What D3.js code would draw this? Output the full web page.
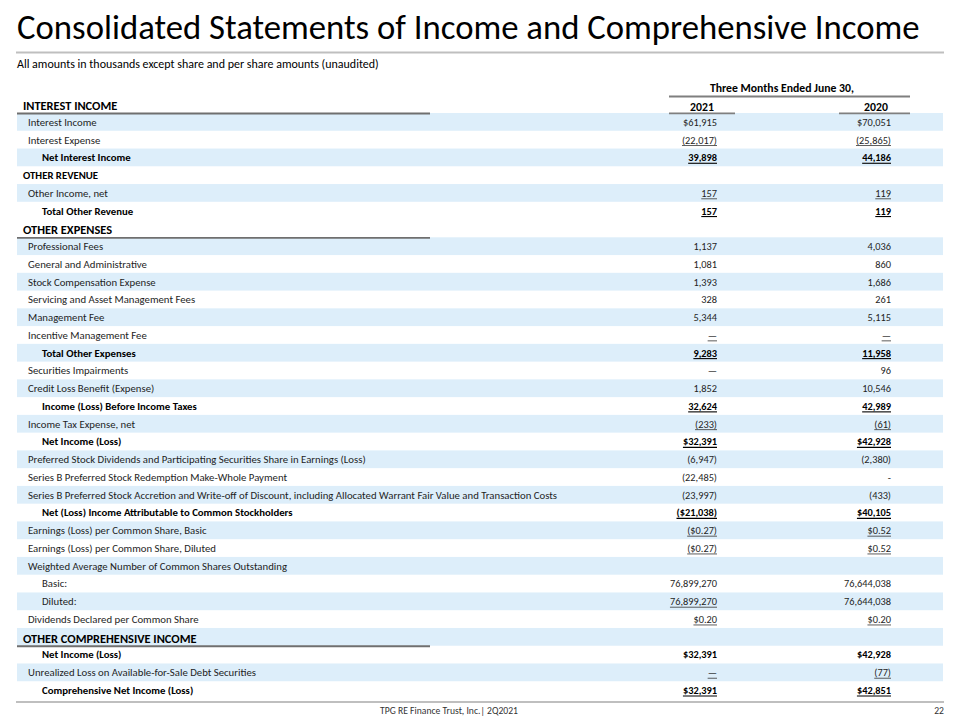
<!DOCTYPE html>
<html>
<head>
<meta charset="utf-8">
<script src="https://cdn.jsdelivr.net/npm/d3@7"></script>
<style>
  body { margin: 0; background: #fff; }
  svg { display: block; font-family: Carlito, Lato, "Open Sans", sans-serif; }
</style>
</head>
<body>
<svg width="960" height="720"></svg>
<script>
// statement rows
var labels = [
  "INTEREST INCOME",
  "Interest Income", "Interest Expense", "Net Interest Income",
  "OTHER REVENUE", "Other Income, net", "Total Other Revenue",
  "OTHER EXPENSES",
  "Professional Fees", "General and Administrative", "Stock Compensation Expense",
  "Servicing and Asset Management Fees", "Management Fee", "Incentive Management Fee",
  "Total Other Expenses", "Securities Impairments", "Credit Loss Benefit (Expense)",
  "Income (Loss) Before Income Taxes", "Income Tax Expense, net", "Net Income (Loss)",
  "Preferred Stock Dividends and Participating Securities Share in Earnings (Loss)",
  "Series B Preferred Stock Redemption Make-Whole Payment",
  "Series B Preferred Stock Accretion and Write-off of Discount, including Allocated Warrant Fair Value and Transaction Costs",
  "Net (Loss) Income Attributable to Common Stockholders",
  "Earnings (Loss) per Common Share, Basic", "Earnings (Loss) per Common Share, Diluted",
  "Weighted Average Number of Common Shares Outstanding",
  "Basic:", "Diluted:", "Dividends Declared per Common Share",
  "OTHER COMPREHENSIVE INCOME",
  "Net Income (Loss)", "Unrealized Loss on Available-for-Sale Debt Securities",
  "Comprehensive Net Income (Loss)"
];

// head = section title with rule, sect = small section title, total = bold indented, sub = indented
var kinds = [
  "head",
  "item", "item", "total",
  "sect", "item", "total",
  "head",
  "item", "item", "item", "item", "item", "item",
  "total", "item", "item",
  "total", "item", "total",
  "item", "item", "item", "total",
  "item", "item", "item",
  "sub", "sub", "item",
  "head",
  "total", "item", "total"
];

var years = ["2021", "2020"];

var v2021 = [
  "",
  "$61,915", "(22,017)", "39,898",
  "", "157", "157",
  "",
  "1,137", "1,081", "1,393", "328", "5,344", "\u2014",
  "9,283", "\u2014", "1,852",
  "32,624", "(233)", "$32,391",
  "(6,947)", "(22,485)", "(23,997)", "($21,038)",
  "($0.27)", "($0.27)", "",
  "76,899,270", "76,899,270", "$0.20",
  "",
  "$32,391", "\u2014", "$32,391"
];

var v2020 = [
  "",
  "$70,051", "(25,865)", "44,186",
  "", "119", "119",
  "",
  "4,036", "860", "1,686", "261", "5,115", "\u2014",
  "11,958", "96", "10,546",
  "42,989", "(61)", "$42,928",
  "(2,380)", "-", "(433)", "$40,105",
  "$0.52", "$0.52", "",
  "76,644,038", "76,644,038", "$0.20",
  "",
  "$42,928", "(77)", "$42,851"
];

// style: which cells carry an accounting underline, which rows are shaded
var under2021 = [2, 3, 5, 6, 13, 14, 17, 18, 19, 23, 24, 25, 28, 29, 32, 33];
var under2020 = [2, 3, 5, 6, 13, 14, 17, 18, 19, 23, 24, 25, 29, 32, 33];
var shaded = [1, 3, 5, 8, 10, 12, 14, 16, 18, 20, 22, 24, 26, 28, 30, 32];

var svg = d3.select("svg");

var y = d3.scaleBand()
    .domain(d3.range(labels.length))
    .range([95.25, 699]);

var colRight = d3.scaleOrdinal().domain(years).range([717, 891]);
var colCenter = d3.scaleOrdinal().domain(years).range([702, 876]);
var colLine = d3.scaleOrdinal().domain(years).range([[669, 735], [839, 910]]);

var indent = {head: 23, sect: 23, item: 28, total: 42, sub: 42};

// fit a text element to a target width by changing font size
function fitSize(sel, target) {
  var w = sel.node().getComputedTextLength();
  var fs = parseFloat(sel.style("font-size"));
  sel.style("font-size", (fs * target / w) + "px");
  return fs * target / w;
}

// title
var title = svg.append("text")
    .attr("x", 17)
    .attr("y", 39)
    .style("font-size", "32px")
    .attr("fill", "#000")
    .text("Consolidated Statements of Income and Comprehensive Income");
fitSize(title, 903);

svg.append("line")
    .attr("x1", 16).attr("x2", 944)
    .attr("y1", 52.5).attr("y2", 52.5)
    .attr("stroke", "#bfbfbf")
    .attr("stroke-width", 2);

var sub = svg.append("text")
    .attr("x", 17)
    .attr("y", 68)
    .style("font-size", "11px")
    .attr("fill", "#000")
    .text("All amounts in thousands except share and per share amounts (unaudited)");
fitSize(sub, 362);

// row size from the longest label
var probe = svg.append("text").style("font-size", "10px").text(labels[22]);
var rowSize = fitSize(probe, 530);
probe.remove();

// shaded bands
svg.append("g").selectAll("rect")
  .data(shaded)
  .join("rect")
    .attr("x", 17)
    .attr("y", d => y(d))
    .attr("width", 926)
    .attr("height", y.bandwidth())
    .attr("fill", "#ddeefa");

// column header
var hdr = svg.append("text")
    .attr("x", 782)
    .attr("y", 92)
    .attr("text-anchor", "middle")
    .attr("font-weight", "bold")
    .style("font-size", rowSize + "px")
    .text("Three Months Ended June 30,");
var hdrSize = fitSize(hdr, 144);

svg.append("line")
    .attr("x1", 669).attr("x2", 910)
    .attr("y1", 96.5).attr("y2", 96.5)
    .attr("stroke", "#7f7f7f")
    .attr("stroke-width", 1.8);

var yh = svg.append("g").selectAll("g")
  .data(years)
  .join("g");

yh.append("text")
    .attr("x", d => colCenter(d))
    .attr("y", 111)
    .attr("text-anchor", "middle")
    .attr("font-weight", "bold")
    .style("font-size", hdrSize + "px")
    .text(d => d);

yh.append("line")
    .attr("x1", d => colLine(d)[0])
    .attr("x2", d => colLine(d)[1])
    .attr("y1", 113.3).attr("y2", 113.3)
    .attr("stroke", "#7f7f7f")
    .attr("stroke-width", 1.8);

// rows
var rows = svg.append("g").selectAll("g")
  .data(labels.map((l, i) => ({
    i: i, label: l, kind: kinds[i],
    vals: [
      {year: "2021", v: v2021[i], u: under2021.indexOf(i) >= 0},
      {year: "2020", v: v2020[i], u: under2020.indexOf(i) >= 0}
    ]
  })))
  .join("g")
    .attr("transform", d => "translate(0," + y(d.i) + ")");

var bw = y.bandwidth();
var base = bw / 2 + rowSize * 0.36;

rows.append("text")
    .attr("x", d => indent[d.kind])
    .attr("y", d => d.kind == "head" ? bw - 3 : base)
    .attr("font-weight", d => (d.kind == "item" || d.kind == "sub") ? "normal" : "bold")
    .attr("fill", d => (d.kind == "item" || d.kind == "sub") ? "#1e1e1e" : "#000")
    .style("font-size", d => (d.kind == "head" ? rowSize * 1.15 : rowSize) + "px")
    .text(d => d.label);

rows.filter(d => d.kind == "head")
  .append("line")
    .attr("x1", 17).attr("x2", 430)
    .attr("y1", bw + 0.5).attr("y2", bw + 0.5)
    .attr("stroke", "#6f6f6f")
    .attr("stroke-width", 1.8);

var cells = rows.selectAll("g.cell")
  .data(d => d.vals.map(c => Object.assign({bold: d.kind == "total"}, c)))
  .join("g")
    .attr("class", "cell");

cells.append("text")
    .attr("x", d => colRight(d.year))
    .attr("y", base)
    .attr("text-anchor", "end")
    .attr("font-weight", d => d.bold ? "bold" : "normal")
    .attr("fill", d => d.bold ? "#000" : "#1e1e1e")
    .style("font-size", (rowSize * 0.96) + "px")
    .text(d => d.v);

cells.filter(d => d.u && d.v)
  .append("line")
    .attr("x1", function(d) {
      var t = d3.select(this.parentNode).select("text").node();
      return colRight(d.year) - t.getComputedTextLength();
    })
    .attr("x2", d => colRight(d.year))
    .attr("y1", base + 2)
    .attr("y2", base + 2)
    .attr("stroke", d => d.bold ? "#000" : "#333")
    .attr("stroke-width", d => d.bold ? 1.1 : 0.8);

// footer
svg.append("line")
    .attr("x1", 16).attr("x2", 944)
    .attr("y1", 702).attr("y2", 702)
    .attr("stroke", "#bfbfbf")
    .attr("stroke-width", 2);

var foot = svg.append("text")
    .attr("x", 449)
    .attr("y", 714)
    .attr("text-anchor", "middle")
    .style("font-size", "9px")
    .attr("fill", "#333")
    .text("TPG RE Finance Trust, Inc.| 2Q2021");
var footSize = fitSize(foot, 138);

svg.append("text")
    .attr("x", 944)
    .attr("y", 714)
    .attr("text-anchor", "end")
    .style("font-size", footSize + "px")
    .attr("fill", "#333")
    .text("22");
</script>
</body>
</html>
